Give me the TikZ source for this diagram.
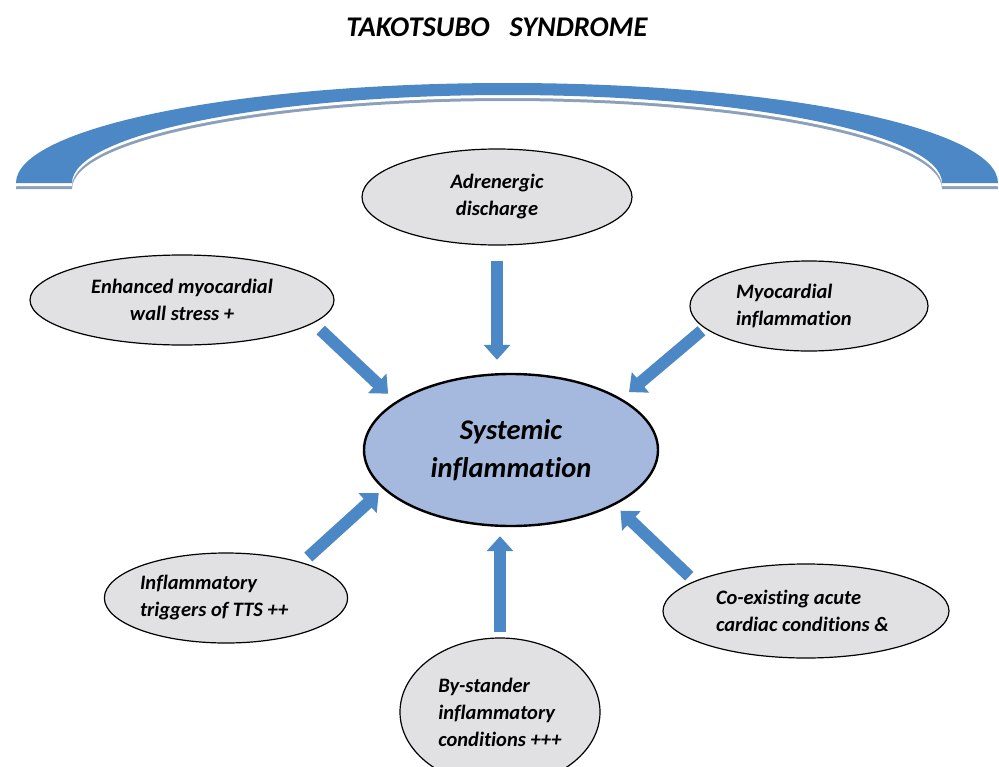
\documentclass[tikz,border=0pt]{standalone}
\usepackage{fontspec}
\setmainfont{Carlito}[Ligatures=NoCommon]
\usetikzlibrary{arrows.meta}
\usetikzlibrary{shapes.geometric}
\definecolor{arrowblue}{HTML}{4C87C6}
\definecolor{arcshadow}{HTML}{8CA0BA}
\definecolor{bubblegray}{HTML}{E1E1E4}
\definecolor{centreblue}{HTML}{A5B9DE}

\begin{document}
\begin{tikzpicture}[x=1pt, y=-1pt,
block/.style={ellipse, draw, line width=1.2pt, fill=bubblegray, inner sep=0pt,
font=\bfseries\itshape\fontsize{20.5}{27}\selectfont},
centre/.style={ellipse, draw, line width=2.4pt, fill=centreblue, inner sep=0pt, align=center,
minimum width=294pt, minimum height=152pt, font=\bfseries\itshape\fontsize{28.5}{38}\selectfont},
bigarrow/.style={arrowblue, line width=12pt, -{Triangle[width=26pt,length=15pt]}},
title/.style={font=\bfseries\itshape\fontsize{28.5}{30}\selectfont}
]
\useasboundingbox (0,0) rectangle (999,766);
% banner arc
\foreach \dy/\col in {6/arcshadow, 3/white, 0/arrowblue}
  \fill[\col, shift={(0,\dy)}] (16,183) arc[start angle=180, end angle=360, x radius=491, y radius=100]
    -- (942,183) arc[start angle=0, end angle=-180, x radius=435, y radius=88] -- cycle;

\node[title] (title) at (497,27) {TAKOTSUBO\hspace{20pt}SYNDROME};

\node[block, align=center, minimum width=270pt, minimum height=96pt] (n1) at (497,197) {Adrenergic\\discharge};
\node[block, align=center, minimum width=304pt, minimum height=90pt] (n2) at (182,300) {Enhanced myocardial\\wall stress +};
\node[block, align=left, text width=146pt, minimum width=238pt, minimum height=90pt] (n3) at (809,306) {Myocardial\\inflammation};
\node[centre] (n4) at (511,450) {Systemic\\inflammation};
\node[block, align=flush left, text width=172pt, minimum width=242pt, minimum height=90pt] (n5) at (226,598) {Inflammatory\\triggers of TTS ++};
\node[block, align=flush left, text width=180pt, minimum width=286pt, minimum height=94pt] (n6) at (806,611) {Co-existing acute\\cardiac conditions \&};
\node[block, align=left, minimum width=200pt, minimum height=148pt] (n7) at (500,712) {By-stander\\inflammatory\\conditions +++};

\draw[bigarrow, shorten <=15pt, shorten >=13pt] (n1.south)--(n1.south |- n4.north);
\draw[bigarrow, shorten <=10pt, shorten >=11pt] (n2.-10)--(n4.157);
\draw[bigarrow, shorten <=4pt, shorten >=10pt] (n3.-168)--(n4.25);
\draw[bigarrow, shorten <=8pt, shorten >=6pt] (n5.25)--(n4.-163);
\draw[bigarrow, shorten <=5pt, shorten >=9pt] (n7.north)--(n7.north |- n4.south);
\draw[bigarrow, shorten <=7pt, shorten >=8pt] (n6.165)--(n4.-28);
\end{tikzpicture}
\end{document}
